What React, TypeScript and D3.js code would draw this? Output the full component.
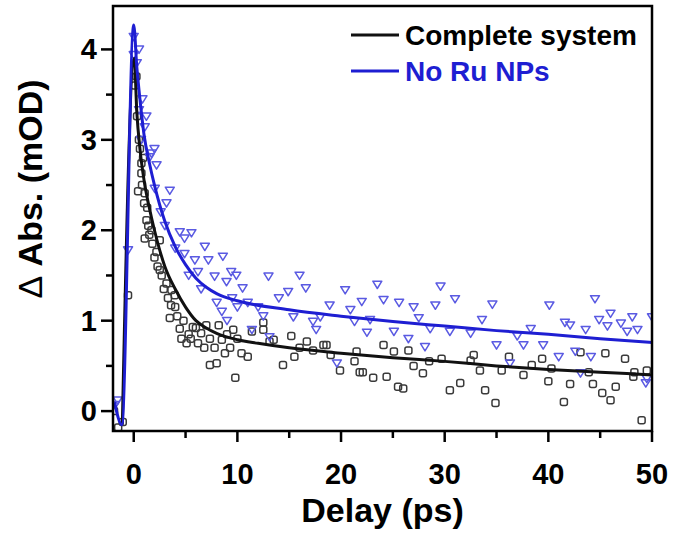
import React from "react";
import * as d3 from "d3";

// Complete system (black squares)
const completeDelay = [-1.9, -1.5, -1.06, -0.55, 0.1, 0.26, 0.32, 0.42, 0.5, 0.6, 0.74, 0.74, 0.8, 0.9, 1.0, 1.06, 1.06, 1.23, 1.3, 1.4, 1.5, 1.71, 1.8, 2.0, 2.19, 2.3, 2.51, 2.51, 2.7, 2.9, 3.16, 3.3, 3.48, 3.6, 3.64, 3.96, 4.0, 4.2, 4.44, 4.6, 4.8, 5.1, 5.3, 5.5, 5.7, 6.0, 6.2, 6.5, 6.8, 7.0, 7.35, 7.35, 7.8, 8.0, 8.2, 8.5, 8.8, 9.0, 9.3, 9.6, 9.8, 10.0, 10.4, 11.0, 11.4, 12.5, 12.5, 13.1, 13.5, 14.4, 15.2, 15.5, 16.0, 16.7, 17.3, 18.3, 18.6, 19.0, 19.9, 21.3, 21.5, 21.8, 22.1, 23.1, 24.1, 24.4, 25.1, 25.5, 26.0, 26.5, 27.0, 27.9, 28.5, 29.7, 30.5, 31.5, 32.5, 32.8, 33.4, 33.9, 34.9, 35.5, 36.2, 37.6, 38.4, 39.4, 40.0, 40.3, 41.5, 42.1, 43.1, 43.9, 44.3, 45.2, 45.5, 46.0, 46.5, 47.4, 48.2, 48.3, 49.0, 49.5];
const completeAbs = [0.0, -0.18, -0.12, 1.28, 3.6, 3.7, 3.26, 2.43, 3.0, 2.9, 2.74, 2.63, 2.5, 2.8, 2.3, 2.41, 1.91, 2.11, 2.25, 2.05, 1.95, 2.0, 1.85, 1.7, 1.76, 1.6, 1.89, 1.56, 1.5, 1.35, 1.41, 1.25, 1.03, 1.17, 1.34, 1.28, 1.15, 1.05, 0.91, 0.8, 1.0, 0.75, 0.85, 0.8, 0.93, 0.92, 0.75, 0.86, 0.7, 0.95, 0.8, 0.51, 0.7, 0.53, 0.95, 0.79, 0.64, 0.85, 0.7, 0.9, 0.37, 0.8, 0.64, 0.6, 0.88, 0.98, 0.9, 0.77, 0.79, 0.51, 0.83, 0.6, 0.7, 0.77, 0.67, 0.73, 0.73, 0.62, 0.45, 0.55, 0.66, 0.43, 0.43, 0.37, 0.73, 0.38, 0.66, 0.27, 0.25, 0.67, 0.5, 0.42, 0.55, 0.58, 0.23, 0.31, 0.56, 0.62, 0.45, 0.23, 0.09, 0.45, 0.6, 0.4, 0.51, 0.58, 0.33, 0.47, 0.1, 0.3, 0.65, 0.43, 0.3, 0.2, 0.64, 0.12, 0.27, 0.58, 0.38, 0.43, -0.1, 0.45];

// No Ru NPs (blue triangles)
const noRuDelay = [-1.8, -1.55, -0.55, 0.0, 0.0, 0.3, 0.51, 0.51, 0.7, 0.84, 1.06, 1.22, 1.55, 1.71, 2.0, 2.03, 2.2, 2.6, 3.0, 3.16, 3.48, 4.0, 4.44, 4.9, 4.9, 5.3, 5.57, 5.9, 6.2, 6.5, 6.86, 7.2, 7.8, 8.0, 8.5, 8.6, 8.95, 9.0, 9.4, 9.5, 9.9, 10.0, 10.5, 11.0, 11.4, 12.0, 12.5, 13.0, 13.1, 14.0, 14.9, 15.4, 16.0, 16.6, 17.3, 17.6, 18.0, 18.9, 19.6, 20.4, 20.9, 21.3, 22.0, 22.5, 22.8, 23.5, 24.1, 25.1, 25.6, 26.5, 27.0, 27.5, 28.1, 28.6, 29.1, 29.6, 30.5, 31.0, 32.5, 33.6, 34.6, 35.0, 36.3, 37.0, 37.6, 38.3, 39.5, 40.1, 41.0, 41.6, 42.1, 42.6, 43.1, 43.6, 44.1, 44.5, 44.9, 45.7, 46.0, 47.0, 47.6, 48.1, 48.6, 49.4, 49.5, 50.0];
const noRuAbs = [0.07, 0.12, 1.78, 3.94, 4.14, 3.85, 4.0, 3.33, 3.0, 3.45, 3.14, 3.26, 2.81, 2.85, 2.9, 2.46, 2.72, 2.2, 2.05, 2.3, 2.44, 1.8, 1.98, 1.91, 1.74, 1.5, 1.97, 1.67, 1.54, 1.35, 1.82, 1.67, 1.49, 1.2, 1.1, 1.71, 1.43, 1.0, 1.54, 1.25, 1.5, 1.15, 1.36, 1.2, 0.9, 1.15, 1.05, 1.49, 0.82, 1.25, 1.32, 1.04, 1.5, 1.36, 0.99, 0.9, 1.04, 1.17, 0.53, 1.34, 1.12, 0.99, 1.21, 0.87, 1.01, 1.4, 1.23, 0.88, 1.2, 0.8, 1.15, 1.03, 0.71, 0.91, 1.17, 1.38, 0.88, 1.24, 0.86, 1.01, 1.18, 0.73, 0.53, 0.83, 0.73, 0.91, 0.73, 1.17, 0.6, 0.98, 0.95, 0.66, 0.42, 0.9, 0.6, 1.24, 1.01, 0.94, 1.08, 0.97, 0.88, 1.04, 0.9, 0.31, 0.36, 1.04];

// Fit curves
const completeFitDelay = [-1.1, 0.05, 0.3, 0.6, 1.0, 1.5, 2.0, 3.0, 4.0, 5.0, 6.0, 7.0, 8.0, 10.0, 12.0, 15.0, 20.0, 25.0, 30.0, 35.0, 40.0, 45.0, 50.0];
const completeFitAbs = [-0.15, 3.9, 3.3, 2.9, 2.55, 2.25, 2.0, 1.6, 1.35, 1.15, 1.0, 0.92, 0.86, 0.79, 0.75, 0.7, 0.64, 0.59, 0.55, 0.5, 0.46, 0.43, 0.4];
const noRuFitDelay = [-1.85, -1.15, 0.0, 0.3, 0.6, 1.0, 1.5, 2.0, 3.0, 4.0, 5.0, 6.0, 7.0, 8.0, 10.0, 15.0, 20.0, 25.0, 30.0, 35.0, 40.0, 45.0, 50.0];
const noRuFitAbs = [0.1, -0.15, 4.27, 3.8, 3.45, 3.05, 2.75, 2.5, 2.1, 1.82, 1.62, 1.47, 1.37, 1.3, 1.22, 1.12, 1.05, 0.99, 0.94, 0.89, 0.85, 0.8, 0.76];

const xTicks = [0, 10, 20, 30, 40, 50];
const xMinorTicks = [5, 15, 25, 35, 45];
const yTicks = [0, 1, 2, 3, 4];
const yMinorTicks = [0.5, 1.5, 2.5, 3.5];

const W = 675, H = 534;
const L = 113, R = 652, T = 6, B = 431;
const FONT = "'Liberation Sans', Arial, sans-serif";
const BLUE = "#1e1ed2";

export default function App() {
  const x = d3.scaleLinear().domain([-2, 50]).range([L, R]);
  const y = d3.scaleLinear().domain([-0.22, 4.48]).range([B, T]);
  const line = d3.line<[number, number]>().x(d => x(d[0])).y(d => y(d[1])).curve(d3.curveMonotoneX);
  const blackFit = completeFitDelay.map((t, i) => [t, completeFitAbs[i]] as [number, number]);
  const blueFit = noRuFitDelay.map((t, i) => [t, noRuFitAbs[i]] as [number, number]);
  const tri = (cx: number, cy: number) => `M${cx - 4.5},${cy - 3.3}L${cx + 4.5},${cy - 3.3}L${cx},${cy + 4}Z`;

  return (
    <svg width={W} height={H} style={{ position: "absolute", left: 0, top: 0, background: "#fff" }}>
      <defs>
        <clipPath id="plot"><rect x={L} y={T} width={R - L} height={B - T} /></clipPath>
      </defs>
      <g clipPath="url(#plot)">
        {completeDelay.map((t, i) => (
          <rect key={"c" + i} x={x(t) - 3.5} y={y(completeAbs[i]) - 3.5} width={7} height={7} rx={2}
            fill="none" stroke="#3a3a3a" strokeWidth={1.5} />
        ))}
        {noRuDelay.map((t, i) => (
          <path key={"n" + i} d={tri(x(t), y(noRuAbs[i]))} fill="none" stroke="#5a5ae2" strokeWidth={1.5} strokeLinejoin="round" />
        ))}
        <path d={line(blackFit) || ""} fill="none" stroke="#111" strokeWidth={3} />
        <path d={line(blueFit) || ""} fill="none" stroke={BLUE} strokeWidth={3} />
      </g>
      {/* frame */}
      <rect x={L} y={T} width={R - L} height={B - T} fill="none" stroke="#000" strokeWidth={2.5} />
      {/* x ticks */}
      {xTicks.map(t => (
        <g key={"xt" + t}>
          <line x1={x(t)} x2={x(t)} y1={B} y2={B + 11} stroke="#000" strokeWidth={2.5} />
          <text x={x(t)} y={484} textAnchor="middle" fontFamily={FONT} fontWeight="bold" fontSize={29}>{t}</text>
        </g>
      ))}
      {xMinorTicks.map(t => (
        <line key={"xm" + t} x1={x(t)} x2={x(t)} y1={B} y2={B + 7} stroke="#000" strokeWidth={2.5} />
      ))}
      {yTicks.map(t => (
        <g key={"yt" + t}>
          <line x1={L - 12} x2={L} y1={y(t)} y2={y(t)} stroke="#000" strokeWidth={2.5} />
          <text x={97} y={y(t) + 10} textAnchor="end" fontFamily={FONT} fontWeight="bold" fontSize={29}>{t}</text>
        </g>
      ))}
      {yMinorTicks.map(t => (
        <line key={"ym" + t} x1={L - 7} x2={L} y1={y(t)} y2={y(t)} stroke="#000" strokeWidth={2.5} />
      ))}
      {/* axis titles */}
      <text x={(L + R) / 2} y={522} textAnchor="middle" fontFamily={FONT} fontWeight="bold" fontSize={34}>Delay (ps)</text>
      <text transform={`translate(42,189) rotate(-90)`} textAnchor="middle" fontFamily={FONT} fontWeight="bold" fontSize={34}>
        <tspan fontWeight="normal">Δ</tspan> Abs. (mOD)
      </text>
      {/* legend */}
      <line x1={351} x2={399} y1={35} y2={35} stroke="#111" strokeWidth={3} />
      <text x={405} y={45} fontFamily={FONT} fontWeight="bold" fontSize={28}>Complete system</text>
      <line x1={351} x2={399} y1={71} y2={71} stroke={BLUE} strokeWidth={3} />
      <text x={405} y={81} fontFamily={FONT} fontWeight="bold" fontSize={28} fill={BLUE}>No Ru NPs</text>
    </svg>
  );
}
